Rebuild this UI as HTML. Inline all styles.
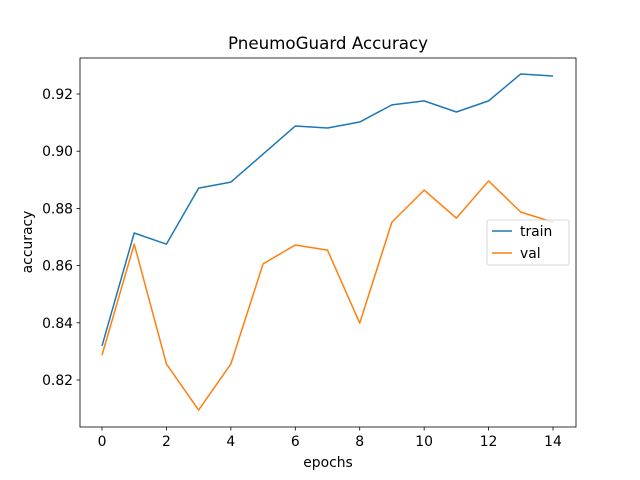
<!DOCTYPE html>
<html><head><meta charset="utf-8"><style>body{margin:0;background:#fff}svg{display:block;font-family:"DejaVu Sans","Liberation Sans",sans-serif}</style></head>
<body>
<svg id="c" width="640" height="480"></svg>
<script>
const epochs=[0,1,2,3,4,5,6,7,8,9,10,11,12,13,14];
const trainAcc=[0.8319,0.8714,0.8675,0.8871,0.8892,0.899,0.9088,0.9081,0.9102,0.9162,0.9176,0.9137,0.9176,0.927,0.9263];
const valAcc=[0.8287,0.8675,0.8256,0.8095,0.8256,0.8606,0.8672,0.8654,0.8399,0.8752,0.8864,0.8766,0.8896,0.8787,0.8752];
const xTicks=[0,2,4,6,8,10,12,14];
const yTicks=[0.82,0.84,0.86,0.88,0.90,0.92];
const NS="http://www.w3.org/2000/svg";
const svg=document.getElementById('c');
const L=80,R=576,T=58,B=427;
const xs=v=>102+(v-0)*(553-102)/14;
const ys=v=>380-(v-0.82)*(380-94)/0.10;
function el(t,a,p){const e=document.createElementNS(NS,t);for(const k in a)e.setAttribute(k,a[k]);(p||svg).appendChild(e);return e;}
function tx(s,a){const e=el('text',a);e.textContent=s;return e;}
let e;
e=el('rect',{x:L,y:T,width:R-L,height:B-T,fill:'none',stroke:'#000','stroke-width':0.8});


xTicks.forEach(v=>{const x=xs(v);
e=el('line',{x1:x,x2:x,y1:B,y2:B+3.5,stroke:'#000','stroke-width':0.8});


e=tx(String(v),{x:x,y:B+19,'font-size':13.9,'text-anchor':'middle'});

});
yTicks.forEach(v=>{const y=ys(v);
e=el('line',{x1:L,x2:L-3.5,y1:y,y2:y,stroke:'#000','stroke-width':0.8});


e=tx(v.toFixed(2),{x:L-7,y:y+5,'font-size':13.9,'text-anchor':'end'});

});
function line(d,c,n){e=el('polyline',{points:d.map((v,i)=>xs(epochs[i])+','+ys(v)).join(' '),fill:'none',stroke:c,'stroke-width':1.5,'stroke-linejoin':'round'});

}
line(trainAcc,'#1f77b4','train-line');
line(valAcc,'#ff7f0e','val-line');
e=tx('PneumoGuard Accuracy',{x:328,y:49,'font-size':16.7,'text-anchor':'middle'});


e=tx('epochs',{x:328,y:467,'font-size':13.9,'text-anchor':'middle'});


e=tx('accuracy',{x:0,y:0,'font-size':13.9,'text-anchor':'middle',transform:'translate(32,242) rotate(-90)'});


const g=el('g',{});


el('rect',{x:487,y:220,width:82,height:45,rx:2,fill:'#fff','fill-opacity':0.8,stroke:'#ccc','stroke-width':0.8},g);
[['train','#1f77b4',231],['val','#ff7f0e',253]].forEach(([n,c,y])=>{
e=el('line',{x1:492,x2:512,y1:y,y2:y,stroke:c,'stroke-width':1.5},g);


e=el('text',{x:520,y:y+5,'font-size':13.9},g);e.textContent=n;

});
</script>
</body></html>
